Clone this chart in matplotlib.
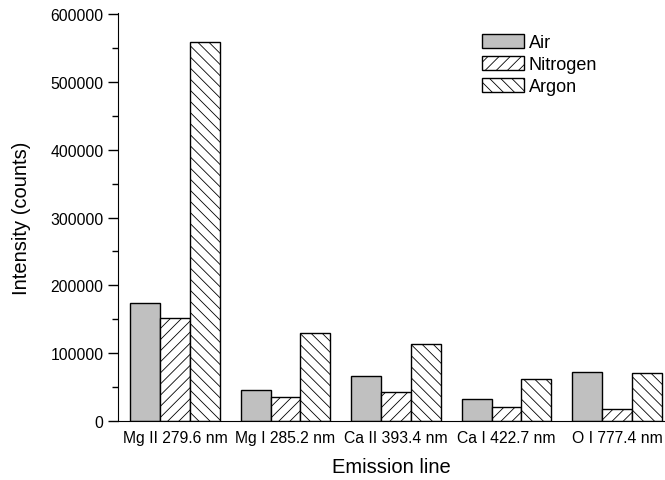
import numpy as np
import matplotlib.pyplot as plt

plt.rcParams['font.family'] = ['Liberation Sans', 'DejaVu Sans']
plt.rcParams['hatch.linewidth'] = 0.6
plt.rcParams['hatch.color'] = '#333333'

linhas = ['Mg II 279.6 nm', 'Mg I 285.2 nm', 'Ca II 393.4 nm', 'Ca I 422.7 nm', 'O I 777.4 nm']
ar = [174500, 46000, 66600, 32500, 72000]
nitrogenio = [151300, 34800, 42900, 20700, 17800]
argonio = [560000, 129700, 113400, 62100, 71000]

x = np.arange(len(linhas))
largura = 0.27

fig = plt.figure(figsize=(6.65, 4.81), dpi=100)
ax = fig.add_axes([118 / 665, 1 - 421.7 / 481, 1 - 118 / 665, (421.7 - 14) / 481])

ax.bar(x - largura, ar, largura, label='Air', color='#c0c0c0', edgecolor='black', linewidth=1)
ax.bar(x, nitrogenio, largura, label='Nitrogen', color='white', edgecolor='black', linewidth=1, hatch='///')
ax.bar(x + largura, argonio, largura, label='Argon', color='white', edgecolor='black', linewidth=1, hatch='\\\\\\')

ax.set_xlim(-0.516, 4.434)
ax.set_ylim(0, 602200)
ax.set_yticks(np.arange(0, 600001, 100000))
ax.set_yticks(np.arange(50000, 600000, 100000), minor=True)
ax.set_xticks(x)
ax.set_xticklabels(linhas)
ax.tick_params(axis='x', length=0, labelsize=11.3, pad=7)
ax.tick_params(axis='y', which='major', length=7, width=1, labelsize=11.3, direction='out')
ax.tick_params(axis='y', which='minor', length=4, width=1, direction='out')
ax.spines['top'].set_visible(False)
ax.spines['right'].set_visible(False)

ax.set_xlabel('Emission line', fontsize=14.5, labelpad=8)
ax.set_ylabel('Intensity (counts)', fontsize=14.5, labelpad=14)

ax.legend(loc='upper left', bbox_to_anchor=(482 / 665, 1 - 35 / 481), bbox_transform=fig.transFigure,
          frameon=False, fontsize=13, handlelength=2.3, handleheight=0.8,
          handletextpad=0.3, labelspacing=0.27, borderpad=0, borderaxespad=0)

fig.savefig('out.png', dpi=100)
